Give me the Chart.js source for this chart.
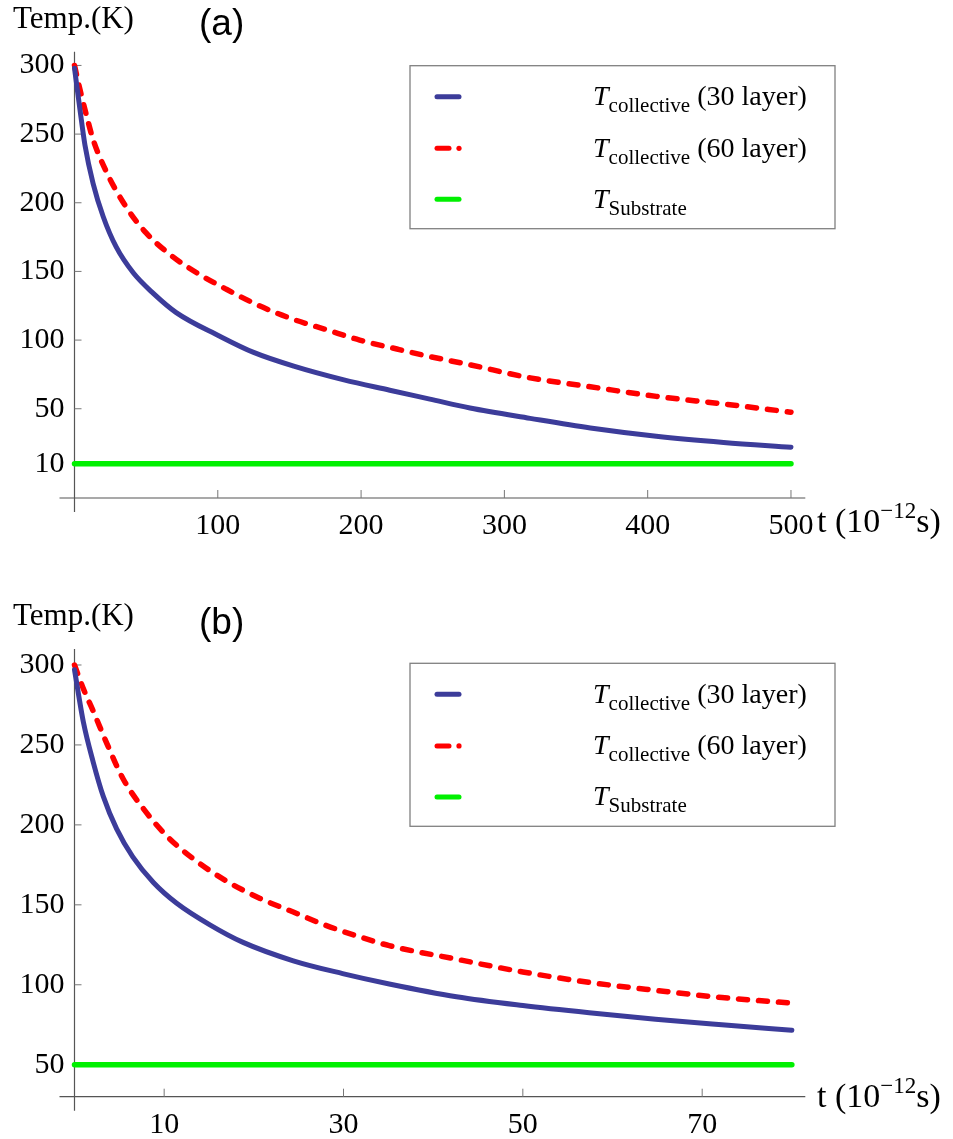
<!DOCTYPE html>
<html>
<head>
<meta charset="utf-8">
<script src="https://cdn.jsdelivr.net/npm/chart.js@4.4.1/dist/chart.umd.min.js"></script>
<style>
  html, body { margin: 0; padding: 0; background: #fff; }
  #wrap { position: relative; width: 953px; height: 1139px; overflow: hidden; }
  canvas { position: absolute; left: 0; }
</style>
</head>
<body>
<div id="wrap">
  <canvas id="panelA" width="953" height="560" style="top:0px"></canvas>
  <canvas id="panelB" width="953" height="559" style="top:580px"></canvas>
</div>
<script>
// ---- Panel (a): cooling over 0–500 ps ----
const tA30    = [0, 3.8, 7.3, 13, 20, 29, 41, 55, 71, 101, 125, 153, 188, 220, 248, 276, 318, 360, 406, 453, 500];
const tempA30 = [298, 268, 242, 214, 190, 168, 149, 134, 120, 103, 91, 81, 71, 63.5, 57, 50.5, 43, 36, 30, 25.5, 22];
const tA60    = [0, 3.8, 8.5, 13, 22.5, 36, 50, 67, 83, 106, 129, 153, 176, 199, 225, 248, 276, 318, 360, 406, 453, 500];
const tempA60 = [300, 282.5, 263, 246, 222, 197, 178, 162, 150.5, 137, 125, 115, 107.5, 100, 93.5, 88, 82, 72.5, 66, 59, 53.5, 47.5];
const tASub    = [0, 500];
const tempASub = [10, 10];
const xTicksA = [100, 200, 300, 400, 500];
const yTicksA = [10, 50, 100, 150, 200, 250, 300];

// ---- Panel (b): cooling over 0–80 ps ----
const tB30    = [0, 1.0, 2.1, 3.2, 4.7, 6.5, 8.8, 11.4, 15.1, 18.8, 24.4, 29.9, 35.1, 42.6, 50, 57.4, 64.8, 72.2, 80];
const tempB30 = [297, 264, 239, 218, 197.5, 180, 164, 151, 137.5, 126.5, 115, 107, 100.5, 92.5, 87, 82.5, 78.5, 75, 71.5];
const tB60    = [0, 1.0, 2.1, 3.6, 5.4, 7.7, 10.3, 13.2, 16.9, 20.7, 24.4, 28.1, 31.8, 35.1, 42.6, 50, 57.4, 64.8, 72.2, 80];
const tempB60 = [300, 285, 271, 251, 229, 210, 193, 179, 165, 154, 145.5, 137, 130, 124.5, 116, 108, 101.5, 96.5, 92, 88.5];
const tBSub    = [0, 80];
const tempBSub = [50, 50];
const xTicksB = [10, 30, 50, 70];
const yTicksB = [50, 100, 150, 200, 250, 300];

// legend entries: italic T, subscript, trailing note
const legendSubs  = ['collective', 'collective', 'Substrate'];
const legendNotes = [' (30 layer)', ' (60 layer)', ''];

const COLOR_30  = '#3c3c9a';
const COLOR_60  = '#ff0000';
const COLOR_SUB = '#00f000';
const SERIF = '"Liberation Serif", "Times New Roman", serif';
const SANS  = '"Liberation Sans", Arial, sans-serif';

function pts(xs, ys) { return xs.map((x, i) => ({ x: x, y: ys[i] })); }

function drawRich(ctx, x, baseline, parts) {
  parts.forEach(p => {
    ctx.font = p.font;
    ctx.fillText(p.text, x, baseline + (p.dy || 0));
    x += ctx.measureText(p.text).width;
  });
  return x;
}

function makePanel(id, o) {
  const decor = {
    id: 'decor',
    beforeDatasetsDraw(chart) {
      const { ctx, chartArea: a, scales: { x, y } } = chart;
      ctx.save();
      ctx.strokeStyle = '#555';
      ctx.lineWidth = 1.2;
      ctx.beginPath();
      ctx.moveTo(a.left - 15, a.bottom); ctx.lineTo(a.right, a.bottom);
      ctx.moveTo(a.left, a.top); ctx.lineTo(a.left, a.bottom + 14);
      ctx.stroke();
      ctx.strokeStyle = '#777';
      ctx.lineWidth = 1;
      ctx.beginPath();
      x.ticks.forEach(t => {
        const px = x.getPixelForValue(t.value);
        ctx.moveTo(px, a.bottom); ctx.lineTo(px, a.bottom - 8);
      });
      y.ticks.forEach(t => {
        const py = y.getPixelForValue(t.value);
        ctx.moveTo(a.left, py); ctx.lineTo(a.left + 7, py);
      });
      ctx.stroke();
      ctx.restore();
    },
    afterDraw(chart) {
      const ctx = chart.ctx;
      ctx.save();
      ctx.fillStyle = '#000';
      ctx.textBaseline = 'alphabetic';
      ctx.textAlign = 'left';
      // axis titles and panel tag
      ctx.font = '31px ' + SERIF;
      ctx.fillText('Temp.(K)', 13, o.tempBase);
      ctx.font = '37px ' + SANS;
      ctx.fillText(o.tag, 199, o.tagBase);
      drawRich(ctx, 817, o.xTitleBase, [
        { text: 't (10', font: '34px ' + SERIF },
        { text: '\u221212', font: '23px ' + SERIF, dy: -14 },
        { text: 's)', font: '34px ' + SERIF }
      ]);
      // legend box
      const bx = 410, by = o.legendTop, bw = 425, bh = 163;
      ctx.strokeStyle = '#808080';
      ctx.lineWidth = 1.3;
      ctx.strokeRect(bx, by, bw, bh);
      const rows = [31, 82.6, 133.6];
      chart.data.datasets.forEach((ds, i) => {
        const yy = by + rows[i];
        ctx.strokeStyle = ds.borderColor;
        ctx.fillStyle = ds.borderColor;
        ctx.lineWidth = 5;
        ctx.lineCap = 'round';
        ctx.beginPath();
        if (ds.borderDash && ds.borderDash.length) {
          ctx.moveTo(437, yy); ctx.lineTo(449, yy);
          ctx.stroke();
          ctx.beginPath();
          ctx.arc(459, yy, 2.6, 0, Math.PI * 2);
          ctx.fill();
        } else {
          ctx.moveTo(437, yy); ctx.lineTo(459, yy);
          ctx.stroke();
        }
        ctx.fillStyle = '#000';
        drawRich(ctx, 593, yy + 8.5, [
          { text: 'T', font: 'italic 28px ' + SERIF },
          { text: legendSubs[i], font: '21px ' + SERIF, dy: 6.7 },
          { text: legendNotes[i], font: '28px ' + SERIF }
        ]);
      });
      ctx.restore();
    }
  };

  const lineBase = {
    pointRadius: 0,
    fill: false,
    clip: false,
    borderCapStyle: 'round',
    borderJoinStyle: 'round',
    cubicInterpolationMode: 'monotone'
  };

  return new Chart(document.getElementById(id), {
    type: 'line',
    data: {
      datasets: [
        Object.assign({ label: 'T collective (30 layer)', data: pts(o.t30, o.v30),
          borderColor: COLOR_30, borderWidth: 5 }, lineBase),
        Object.assign({ label: 'T collective (60 layer)', data: pts(o.t60, o.v60),
          borderColor: COLOR_60, borderWidth: 5.5, borderDash: [9, 11] }, lineBase),
        Object.assign({ label: 'T Substrate', data: pts(o.tSub, o.vSub),
          borderColor: COLOR_SUB, borderWidth: 5.5 }, lineBase)
      ]
    },
    options: {
      responsive: false,
      animation: false,
      devicePixelRatio: 1,
      layout: { padding: { left: 0, top: o.padTop, right: 147.7, bottom: o.padBottom } },
      plugins: { legend: { display: false }, tooltip: { enabled: false } },
      scales: {
        x: {
          type: 'linear', min: o.xMin, max: o.xMax,
          grid: { display: false, drawTicks: false },
          border: { display: false },
          afterBuildTicks: s => { s.ticks = o.xTicks.map(v => ({ value: v })); },
          afterFit: s => { s.height = o.xAxisH; },
          ticks: { color: '#000', padding: 10, maxRotation: 0, autoSkip: false,
                   font: { family: SERIF, size: 30 }, callback: v => String(v) }
        },
        y: {
          type: 'linear', min: o.yMin, max: o.yMax,
          grid: { display: false, drawTicks: false },
          border: { display: false },
          afterBuildTicks: s => { s.ticks = o.yTicks.map(v => ({ value: v })); },
          afterFit: s => { s.width = 74.5; },
          ticks: { color: '#000', padding: 10, autoSkip: false,
                   font: { family: SERIF, size: 30 }, callback: v => String(v) }
        }
      }
    },
    plugins: [decor]
  });
}

makePanel('panelA', {
  t30: tA30, v30: tempA30, t60: tA60, v60: tempA60, tSub: tASub, vSub: tempASub,
  xTicks: xTicksA, yTicks: yTicksA,
  xMin: 0, xMax: 510, yMin: -15, yMax: 310,
  padTop: 51.7, padBottom: 12, xAxisH: 50,
  tag: '(a)', tempBase: 28, tagBase: 35, xTitleBase: 532, legendTop: 65.7
});

makePanel('panelB', {
  t30: tB30, v30: tempB30, t60: tB60, v60: tempB60, tSub: tBSub, vSub: tempBSub,
  xTicks: xTicksB, yTicks: yTicksB,
  xMin: 0, xMax: 81.5, yMin: 30, yMax: 310,
  padTop: 69, padBottom: 0, xAxisH: 42.3,
  tag: '(b)', tempBase: 45, tagBase: 54, xTitleBase: 527, legendTop: 83.3
});
</script>
</body>
</html>
